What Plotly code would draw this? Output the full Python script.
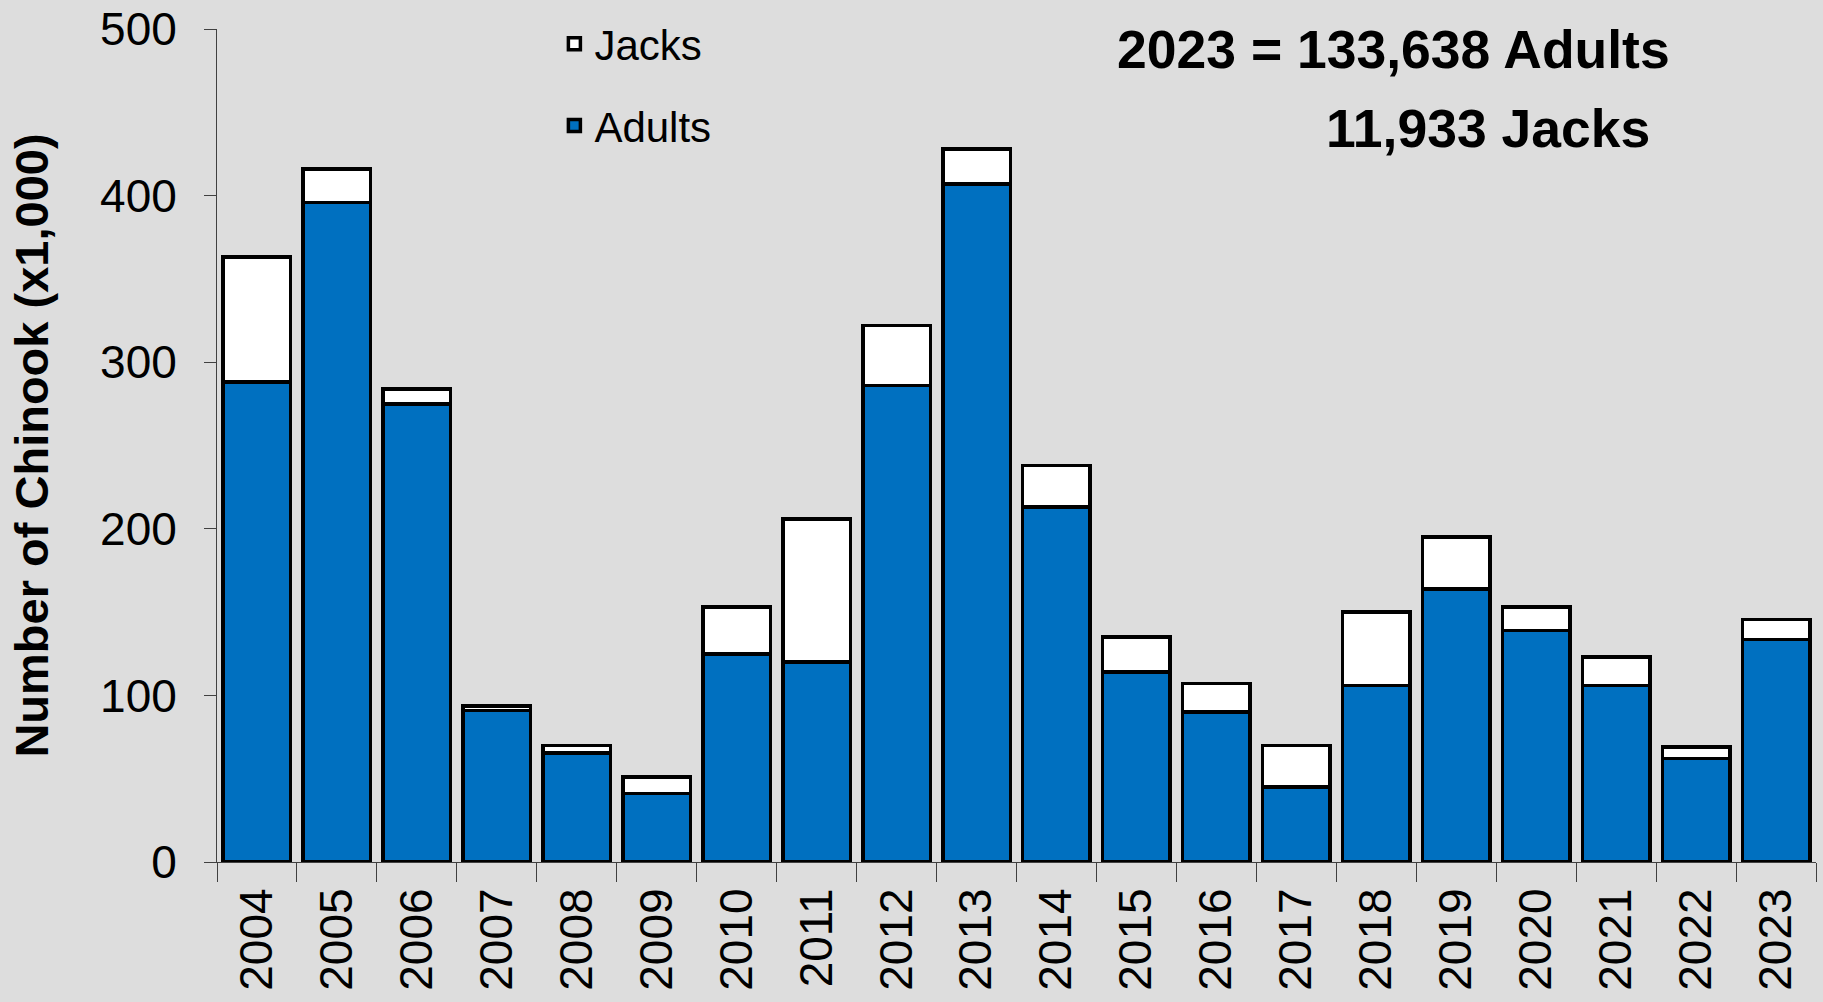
import plotly.graph_objects as go

years = [str(y) for y in range(2004, 2024)]
adults = [288, 396, 275, 91, 65.5, 41, 125, 120, 286, 407, 213, 114, 90, 45, 106, 164, 139, 106, 62, 133.638]
jacks = [75, 20, 9, 2.5, 4.5, 10, 28, 86, 36, 21, 25, 21, 17, 25, 44, 31, 14, 17, 7, 11.933]

y_ticks = [0, 100, 200, 300, 400, 500]

FONT = "Liberation Sans, Arial, sans-serif"
BG = "#dddddd"
BLUE = "#0070c0"

fig = go.Figure()
fig.add_trace(go.Bar(
    x=years, y=adults, name="Adults", legend="legend2", showlegend=True,
    marker=dict(color=BLUE, line=dict(color="black", width=3.5)),
))
fig.add_trace(go.Bar(
    x=years, y=jacks, name="Jacks", legend="legend", showlegend=True,
    marker=dict(color="white", line=dict(color="black", width=3.5)),
))

legend_common = dict(
    font=dict(family=FONT, size=42, color="black"),
    bgcolor="rgba(0,0,0,0)", xanchor="left", yanchor="middle",
    itemwidth=30, borderwidth=0,
)

fig.update_layout(
    width=1823, height=1002,
    showlegend=True,
    barmode="stack", bargap=0.156,
    paper_bgcolor=BG, plot_bgcolor=BG,
    margin=dict(l=217, r=7, t=29, b=140),
    font=dict(family=FONT, color="black"),
    legend=dict(x=0.211, y=0.982, **legend_common),
    legend2=dict(x=0.211, y=0.884, **legend_common),
    xaxis=dict(
        type="category", tickson="boundaries", ticks="outside", ticklen=19,
        tickcolor="#404040", tickwidth=1, showline=True, linecolor="#404040",
        linewidth=1, tickangle=-90, showgrid=False, automargin=False,
        tickfont=dict(family=FONT, size=46, color="black"),
        ticklabelstandoff=7,
    ),
    yaxis=dict(
        range=[0, 500], tickvals=y_ticks, ticks="outside", ticklen=12,
        tickcolor="#404040", tickwidth=1, showline=True, linecolor="#404040",
        linewidth=1, showgrid=False, zeroline=False, automargin=False,
        tickfont=dict(family=FONT, size=46, color="black"),
        ticklabelstandoff=18,
        title=dict(text="<b>Number of Chinook (x1,000)</b>",
                   font=dict(family=FONT, size=47, color="black"), standoff=36),
    ),
    annotations=[
        dict(text="<b>2023 = 133,638 Adults</b>", xref="paper", yref="paper",
             x=0.5615, y=0.975, xanchor="left", yanchor="middle", showarrow=False,
             font=dict(family=FONT, size=53.5, color="black")),
        dict(text="<b>11,933 Jacks</b>", xref="paper", yref="paper",
             x=0.6925, y=0.881, xanchor="left", yanchor="middle", showarrow=False,
             font=dict(family=FONT, size=53.5, color="black")),
    ],
)

fig.write_html(
    "out.html",
    config={"displayModeBar": False},
    post_script="document.body.style.margin='0';document.body.style.background='#dddddd';",
)
